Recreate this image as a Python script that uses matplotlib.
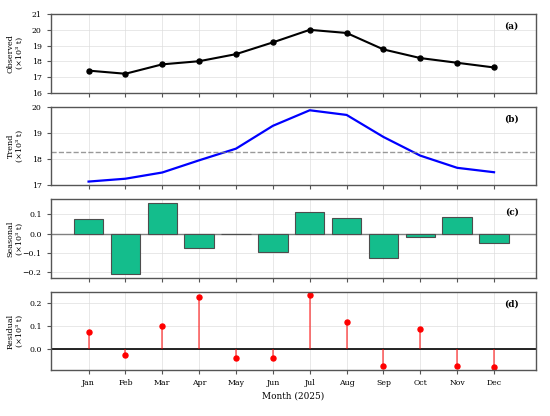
import numpy as np
import matplotlib
matplotlib.use("Agg")
import matplotlib.pyplot as plt
from matplotlib.ticker import MultipleLocator, FuncFormatter

# --- Data ---
months = ["Jan", "Feb", "Mar", "Apr", "May", "Jun",
          "Jul", "Aug", "Sep", "Oct", "Nov", "Dec"]
observed = [17.4, 17.2, 17.8, 18.0, 18.45, 19.2, 20.0, 19.8, 18.75, 18.2, 17.9, 17.6]
trend = [17.13, 17.24, 17.48, 17.95, 18.40, 19.28, 19.88, 19.70, 18.85, 18.13, 17.66, 17.49]
seasonal = [0.077, -0.209, 0.160, -0.075, 0.0, -0.093, 0.110, 0.084, -0.123, -0.019, 0.089, -0.046]
residual = [0.073, -0.026, 0.097, 0.226, -0.040, -0.040, 0.232, 0.117, -0.076, 0.084, -0.076, -0.078]

plt.rcParams['font.family'] = ['DejaVu Serif']
plt.rcParams['font.size'] = 5.8

x = np.arange(len(months))

fig, axes = plt.subplots(4, 1, figsize=(5.5, 4.16), dpi=100, sharex=True)
fig.subplots_adjust(left=0.092, right=0.974, top=0.966, bottom=0.11, hspace=0.18)

ax_obs, ax_tr, ax_se, ax_re = axes


def fmt(decimals):
    return FuncFormatter(lambda v, p: f"{v:.{decimals}f}".replace('-', '\u2212'))


# (a) observed
ax_obs.plot(x, observed, color='black', lw=1.5, marker='o', ms=3.6)
ax_obs.set_ylim(16, 21)
ax_obs.yaxis.set_major_locator(MultipleLocator(1))
ax_obs.yaxis.set_major_formatter(fmt(0))
ax_obs.set_ylabel("Observed\n(×10³ t)")

# (b) trend with mean line
ax_tr.plot(x, trend, color='blue', lw=1.6)
ax_tr.axhline(np.mean(trend), color='gray', ls='--', lw=1, alpha=0.8)
ax_tr.yaxis.set_major_locator(MultipleLocator(1))
ax_tr.yaxis.set_major_formatter(fmt(0))
ax_tr.set_ylabel("Trend\n(×10³ t)")

# (c) seasonal bars
ax_se.bar(x, seasonal, width=0.8, color='#14bd8c', edgecolor='#4d4d4d', lw=0.8, zorder=3)
ax_se.axhline(0, color='gray', lw=1, zorder=2)
ax_se.yaxis.set_major_locator(MultipleLocator(0.1))
ax_se.yaxis.set_major_formatter(fmt(1))
ax_se.set_ylabel("Seasonal\n(×10³ t)")

# (d) residual stems
ml, sl, bl = ax_re.stem(x, residual, basefmt=' ')
plt.setp(sl, color='red', lw=1.2, alpha=0.6)
plt.setp(ml, color='red', ms=3.6)
ax_re.axhline(0, color='black', lw=1.2, zorder=1)
ax_re.yaxis.set_major_locator(MultipleLocator(0.1))
ax_re.yaxis.set_major_formatter(fmt(1))
ax_re.set_ylabel("Residual\n(×10³ t)")

tags = ["(a)", "(b)", "(c)", "(d)"]
for ax, tag in zip(axes, tags):
    ax.grid(True, color='#dddddd', lw=0.6, alpha=0.8)
    ax.set_axisbelow(True)
    for sp in ax.spines.values():
        sp.set_color('#555555')
        sp.set_linewidth(1.0)
    ax.tick_params(length=3, width=0.8, color='#555555', labelsize=5.6)
    ax.yaxis.set_label_coords(-0.055, 0.5)
    ax.text(0.965, 0.9, tag, transform=ax.transAxes, ha='right', va='top',
            fontweight='bold', fontsize=6.4)

ax_re.set_xticks(x)
ax_re.set_xticklabels(months)
ax_re.set_xlim(-1.03, 12.13)
ax_re.set_xlabel("Month (2025)", fontsize=6.4, labelpad=3)

fig.savefig("out.png", dpi=100)
